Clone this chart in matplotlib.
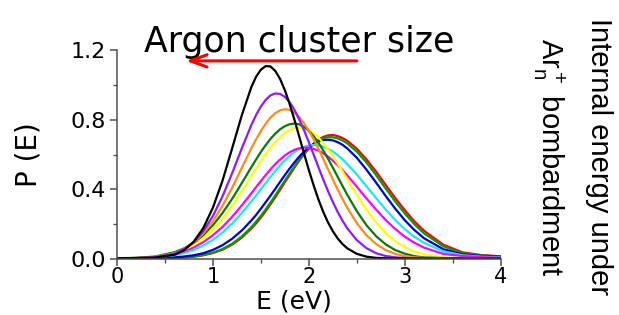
import numpy as np
import matplotlib
matplotlib.use('Agg')
import matplotlib.pyplot as plt
from matplotlib.ticker import MultipleLocator

plt.rcParams['font.family'] = ['DejaVu Sans']
plt.rcParams['mathtext.fontset'] = 'custom'
plt.rcParams['mathtext.rm'] = 'Liberation Sans'
plt.rcParams['mathtext.it'] = 'Liberation Sans:italic'
plt.rcParams['mathtext.default'] = 'regular'

# energy grid (eV), finer around the peaks
E = [0.0, 0.2, 0.4, 0.6, 0.7, 0.8, 0.9, 1.0, 1.1, 1.2, 1.3, 1.4,
     1.45, 1.5, 1.55, 1.6, 1.65, 1.7, 1.75, 1.8, 1.85, 1.9, 1.95, 2.0,
     2.05, 2.1, 2.15, 2.2, 2.25, 2.3, 2.35, 2.4,
     2.5, 2.6, 2.7, 2.8, 2.9, 3.0, 3.1, 3.2,
     3.4, 3.6, 3.8, 4.0]

# P(E), one list per curve
p_black = [0.004, 0.005, 0.008, 0.024, 0.050, 0.099, 0.178, 0.295, 0.450, 0.635, 0.824, 0.987,
           1.047, 1.088, 1.108, 1.106, 1.080, 1.034, 0.969, 0.889, 0.799, 0.702, 0.605, 0.510,
           0.422, 0.341, 0.270, 0.209, 0.159, 0.118, 0.086, 0.061,
           0.029, 0.013, 0.006, 0.004, 0.003, 0.003, 0.002, 0.002,
           0.002, 0.002, 0.002, 0.002]
p_purple = [0.004, 0.005, 0.009, 0.030, 0.056, 0.097, 0.160, 0.247, 0.360, 0.492, 0.634, 0.769,
            0.827, 0.876, 0.914, 0.940, 0.951, 0.948, 0.931, 0.900, 0.856, 0.801, 0.739, 0.670,
            0.599, 0.527, 0.456, 0.389, 0.327, 0.270, 0.220, 0.176,
            0.108, 0.062, 0.033, 0.017, 0.009, 0.005, 0.004, 0.003,
            0.003, 0.002, 0.002, 0.002]
p_orange = [0.004, 0.005, 0.011, 0.034, 0.058, 0.095, 0.147, 0.217, 0.305, 0.409, 0.522, 0.635,
            0.687, 0.735, 0.777, 0.812, 0.837, 0.854, 0.860, 0.856, 0.840, 0.815, 0.779, 0.736,
            0.687, 0.632, 0.575, 0.515, 0.457, 0.399, 0.345, 0.294,
            0.205, 0.136, 0.086, 0.051, 0.029, 0.016, 0.009, 0.006,
            0.004, 0.003, 0.003, 0.002]
p_dkgreen = [0.004, 0.006, 0.014, 0.039, 0.061, 0.093, 0.137, 0.194, 0.264, 0.345, 0.435, 0.527,
             0.572, 0.615, 0.654, 0.690, 0.720, 0.745, 0.763, 0.774, 0.778, 0.773, 0.759, 0.736,
             0.705, 0.667, 0.623, 0.575, 0.524, 0.472, 0.420, 0.369,
             0.274, 0.194, 0.131, 0.084, 0.051, 0.030, 0.016, 0.009,
             0.005, 0.004, 0.003, 0.003]
p_yellow = [0.004, 0.006, 0.012, 0.033, 0.053, 0.081, 0.119, 0.169, 0.231, 0.305, 0.388, 0.476,
            0.519, 0.562, 0.602, 0.639, 0.673, 0.701, 0.724, 0.741, 0.752, 0.755, 0.751, 0.740,
            0.722, 0.697, 0.666, 0.631, 0.591, 0.548, 0.504, 0.458,
            0.368, 0.283, 0.210, 0.149, 0.102, 0.067, 0.042, 0.026,
            0.009, 0.005, 0.004, 0.003]
p_magenta = [0.004, 0.005, 0.011, 0.028, 0.044, 0.066, 0.097, 0.136, 0.184, 0.242, 0.307, 0.377,
             0.413, 0.448, 0.482, 0.515, 0.545, 0.571, 0.594, 0.613, 0.627, 0.636, 0.640, 0.638,
             0.632, 0.622, 0.607, 0.588, 0.565, 0.539, 0.511, 0.480,
             0.415, 0.348, 0.284, 0.224, 0.172, 0.128, 0.093, 0.065,
             0.029, 0.016, 0.010, 0.007]
p_cyan = [0.004, 0.005, 0.009, 0.022, 0.034, 0.052, 0.077, 0.109, 0.151, 0.203, 0.263, 0.330,
          0.365, 0.401, 0.436, 0.471, 0.505, 0.537, 0.566, 0.592, 0.614, 0.632, 0.644, 0.652,
          0.655, 0.653, 0.645, 0.633, 0.617, 0.597, 0.573, 0.546,
          0.485, 0.418, 0.350, 0.284, 0.224, 0.171, 0.127, 0.092,
          0.044, 0.021, 0.013, 0.009]
p_blue = [0.004, 0.004, 0.005, 0.009, 0.014, 0.021, 0.033, 0.052, 0.079, 0.116, 0.163, 0.221,
          0.253, 0.289, 0.326, 0.364, 0.403, 0.443, 0.482, 0.520, 0.555, 0.588, 0.617, 0.642,
          0.661, 0.675, 0.683, 0.685, 0.681, 0.671, 0.656, 0.635,
          0.581, 0.513, 0.439, 0.362, 0.289, 0.222, 0.166, 0.119,
          0.056, 0.026, 0.017, 0.012]
p_green = [0.004, 0.004, 0.004, 0.006, 0.009, 0.014, 0.023, 0.036, 0.057, 0.087, 0.129, 0.182,
           0.214, 0.248, 0.285, 0.324, 0.365, 0.408, 0.450, 0.492, 0.532, 0.570, 0.605, 0.635,
           0.661, 0.680, 0.693, 0.700, 0.699, 0.693, 0.681, 0.664,
           0.616, 0.554, 0.482, 0.405, 0.330, 0.261, 0.199, 0.147,
           0.073, 0.032, 0.020, 0.014]
p_red = [0.004, 0.004, 0.004, 0.006, 0.008, 0.013, 0.021, 0.034, 0.053, 0.082, 0.122, 0.174,
         0.204, 0.238, 0.275, 0.314, 0.355, 0.397, 0.441, 0.483, 0.525, 0.565, 0.602, 0.634,
         0.662, 0.685, 0.701, 0.710, 0.712, 0.706, 0.695, 0.679,
         0.633, 0.572, 0.502, 0.426, 0.350, 0.280, 0.216, 0.162,
         0.082, 0.038, 0.022, 0.015]

curves = [
    (p_red, '#ff0000'),
    (p_green, '#00a000'),
    (p_blue, '#0000d0'),
    (p_cyan, '#18e8f0'),
    (p_magenta, '#ff00ff'),
    (p_yellow, '#ffff00'),
    (p_dkgreen, '#087a08'),
    (p_orange, '#ff8a1c'),
    (p_purple, '#8a1cff'),
    (p_black, '#000000'),
]

fig = plt.figure(figsize=(6.19, 3.15), dpi=100)
ax = fig.add_axes([0.189, 0.178, 0.620, 0.663])

for p, c in curves:
    ax.plot(E, p, color=c, lw=1.6, solid_joinstyle='round')

ax.set_xlim(0, 4)
ax.set_ylim(0, 1.2)
ax.set_xticks([0, 1, 2, 3, 4])
ax.set_yticks([0.0, 0.4, 0.8, 1.2])
ax.set_yticklabels(['0.0', '0.4', '0.8', '1.2'])
ax.xaxis.set_minor_locator(MultipleLocator(0.5))
ax.yaxis.set_minor_locator(MultipleLocator(0.2))

for s in ['top', 'right']:
    ax.spines[s].set_visible(False)
for s in ['left', 'bottom']:
    ax.spines[s].set_color('#505050')
    ax.spines[s].set_linewidth(1.1)

ax.tick_params(which='major', direction='out', length=5, width=1.1,
               color='#505050', labelsize=16, pad=3)
ax.tick_params(axis='x', which='major', pad=1, labelsize=15)
ax.tick_params(which='minor', direction='out', length=3, width=1.0,
               color='#505050')

ax.set_xlabel('E (eV)', fontsize=18)
ax.xaxis.set_label_coords(0.46, -0.145)
ax.set_ylabel('P (E)', fontsize=20)
ax.yaxis.set_label_coords(-0.195, 0.5)

ax.text(0.474, 0.99, 'Argon cluster size', transform=ax.transAxes,
        ha='center', va='baseline', fontsize=25)
ax.annotate('', xy=(0.69, 1.138), xytext=(2.53, 1.138),
            arrowprops=dict(arrowstyle='->,head_length=0.6,head_width=0.22',
                            color='red', lw=2.2, mutation_scale=20))

fig.text(0.968, 0.502, 'Internal energy under', rotation=-90,
         ha='center', va='center', fontsize=21, family='Liberation Sans')
fig.text(0.886, 0.502, r'Ar$_n^+$ bombardment', rotation=-90,
         ha='center', va='center', fontsize=21, family='Liberation Sans')

fig.savefig('out.png', dpi=100)
